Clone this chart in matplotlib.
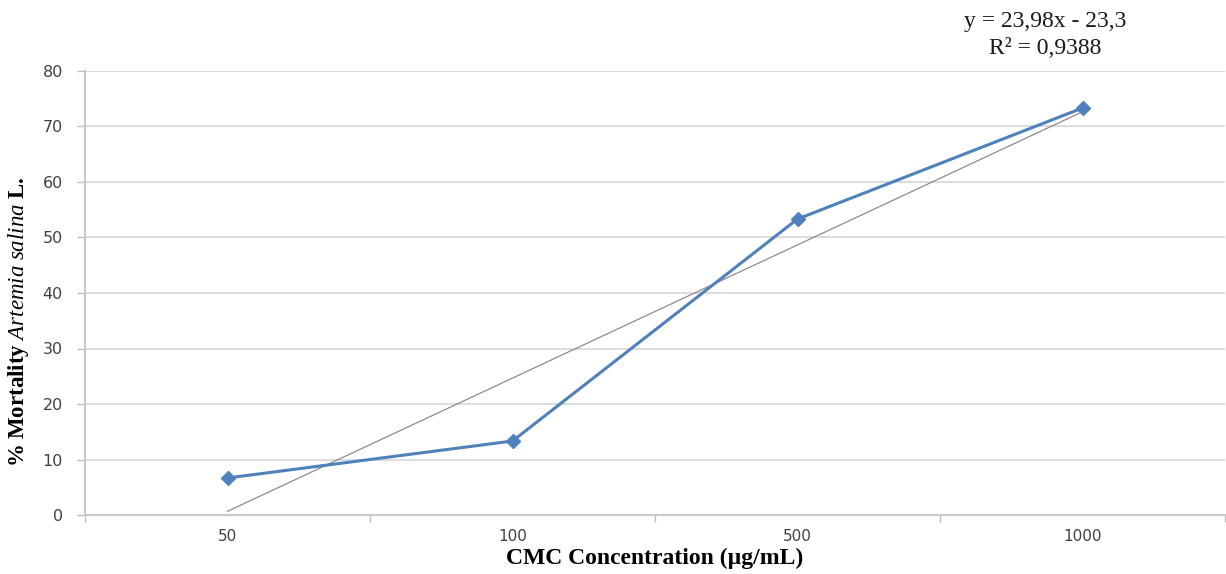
import numpy as np
import matplotlib
matplotlib.use("Agg")
import matplotlib.pyplot as plt

# concentrations (category axis) and mortality (%)
conc_labels = ["50", "100", "500", "1000"]
mortality = [6.67, 13.33, 53.33, 73.33]
eq_text = "y = 23,98x - 23,3"
r2_text = "R² = 0,9388"

plt.rcParams["mathtext.fontset"] = "custom"
plt.rcParams["mathtext.rm"] = "Liberation Serif:bold"
plt.rcParams["mathtext.it"] = "Liberation Serif:italic"

fig = plt.figure(figsize=(12.26, 5.74), dpi=100)
ax = fig.add_axes([85/1226, 1-515/574, 1140/1226, (515-71)/574])

x = np.arange(1, len(mortality)+1)

# linear trendline (Excel style), over the categories
coef = np.polyfit(x, mortality, 1)
ax.plot(x, np.polyval(coef, x), color="#8c8c8c", lw=0.9, zorder=2)

ax.plot(x, mortality, color="#4f81bd", lw=2.2, marker="D", markersize=7,
        markeredgecolor="#4f81bd", zorder=3)

ax.set_xlim(0.5, len(mortality)+0.5)
ax.set_ylim(0, 80)
ax.set_yticks(range(0, 81, 10))
ax.set_xticks(x)
ax.set_xticklabels(conc_labels)
ax.set_xticks(np.arange(0.5, len(mortality)+1, 1), minor=True)
ax.tick_params(axis="x", which="major", length=0, pad=10, labelsize=11, labelcolor="#404040")
ax.tick_params(axis="x", which="minor", length=5, color="#bfbfbf", width=1)
ax.tick_params(axis="y", length=6, color="#bfbfbf", width=1, labelsize=11.5, labelcolor="#404040", pad=10)

ax.grid(axis="y", color="#d9d9d9", lw=1.3, zorder=0)
ax.set_axisbelow(True)
for s in ["top", "right"]:
    ax.spines[s].set_visible(False)
ax.spines["left"].set_color("#c8c8c8")
ax.spines["left"].set_linewidth(1.5)
ax.spines["bottom"].set_color("#c8c8c8")
ax.spines["bottom"].set_linewidth(1.5)

ax.set_xlabel("CMC Concentration (µg/mL)", family="Liberation Serif", fontweight="bold",
              fontsize=17, labelpad=3)
ax.set_ylabel(r"$\mathrm{\%\ Mortality}\ \mathit{Artemia\ salina}\ \mathrm{L.}$",
              fontsize=16.5)
ax.yaxis.set_label_coords((31-85)/1140, (515-322)/444)

fig.text(1045/1226, 1-22/574, eq_text, family="Liberation Serif", fontsize=17,
         ha="center", va="center", color="#1a1a1a")
fig.text(1045/1226, 1-48/574, r2_text, family="Liberation Serif", fontsize=17,
         ha="center", va="center", color="#1a1a1a")

fig.savefig("out.png", dpi=100, facecolor="white")
